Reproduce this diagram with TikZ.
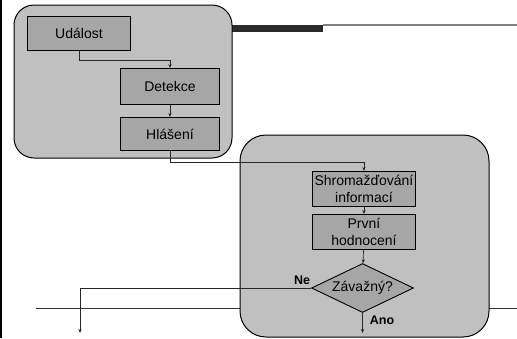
\documentclass[tikz,border=0pt]{standalone}
\usepackage{fontspec}
\setmainfont{Liberation Sans}
\usetikzlibrary{arrows.meta,shapes.geometric}
\definecolor{panel}{HTML}{C0C0C0}
\definecolor{stepfill}{HTML}{A6A6A6}
\definecolor{bar}{HTML}{2A2A2A}
\definecolor{rule}{HTML}{808080}
\tikzset{
  panelbox/.style={draw=black, line width=1pt, fill=panel},
  stepbox/.style={draw=black, line width=0.9pt, fill=stepfill, inner sep=0pt, anchor=north west,
    font=\fontsize{14}{17}\selectfont, align=center},
  decision/.style={diamond, draw=black, line width=0.9pt, fill=stepfill, inner sep=0pt, aspect=2.05,
    minimum width=102pt, minimum height=49pt, font=\fontsize{14}{17}\selectfont},
  conn/.style={draw=black!85, line width=0.7pt, -{Stealth[length=4pt,width=3.2pt]}},
  lbl/.style={font=\bfseries\fontsize{12.5}{14}\selectfont}
}
\begin{document}
\begin{tikzpicture}[x=1pt,y=-1pt]
\useasboundingbox (0,0) rectangle (517,338);
% slide decorations
\draw[black, line width=1.4pt] (1,0) -- (1,338);
\draw[black!80, line width=0.9pt] (36,308) -- (517,308);
\draw[rule, line width=1.2pt] (323,25) -- (517,25);
\fill[bar] (226,25) rectangle (323,32);
% panels
\draw[panelbox, rounded corners=20pt] (14,5) rectangle (232,158);
\draw[panelbox, rounded corners=26pt] (240,135) rectangle (489,337);
% steps
\node[stepbox, minimum width=103pt, minimum height=34pt] (udalost) at (27,16) {Událost};
\node[stepbox, minimum width=99pt, minimum height=36pt] (detekce) at (120,68) {Detekce};
\node[stepbox, minimum width=99pt, minimum height=33pt] (hlaseni) at (120,117) {Hlášení};
\node[stepbox, minimum width=103pt, minimum height=35pt] (shrom) at (312,171) {Shromažďování\\informací};
\node[stepbox, minimum width=103pt, minimum height=35pt] (prvni) at (312,214) {První\\hodnocení};
\node[decision] (zav) at (362.5,288) {Závažný?};
\coordinate (neend) at (80,333);
\coordinate (anoend) at (362.5,333);
% connectors
\draw[conn] (udalost.south) -- ++(0,9) -| (detekce.north);
\draw[conn] (detekce) -- (hlaseni);
\draw[conn] (hlaseni.south) -- ++(0,11) -| (shrom.north);
\draw[conn] (shrom) -- (prvni);
\draw[conn] (prvni) -- (zav);
\draw[conn] (zav.west) -| (neend);
\draw[conn] (zav.south) -- (anoend);
% labels
\node[lbl] at (302,280) {Ne};
\node[lbl] at (382,320) {Ano};
\end{tikzpicture}
\end{document}
